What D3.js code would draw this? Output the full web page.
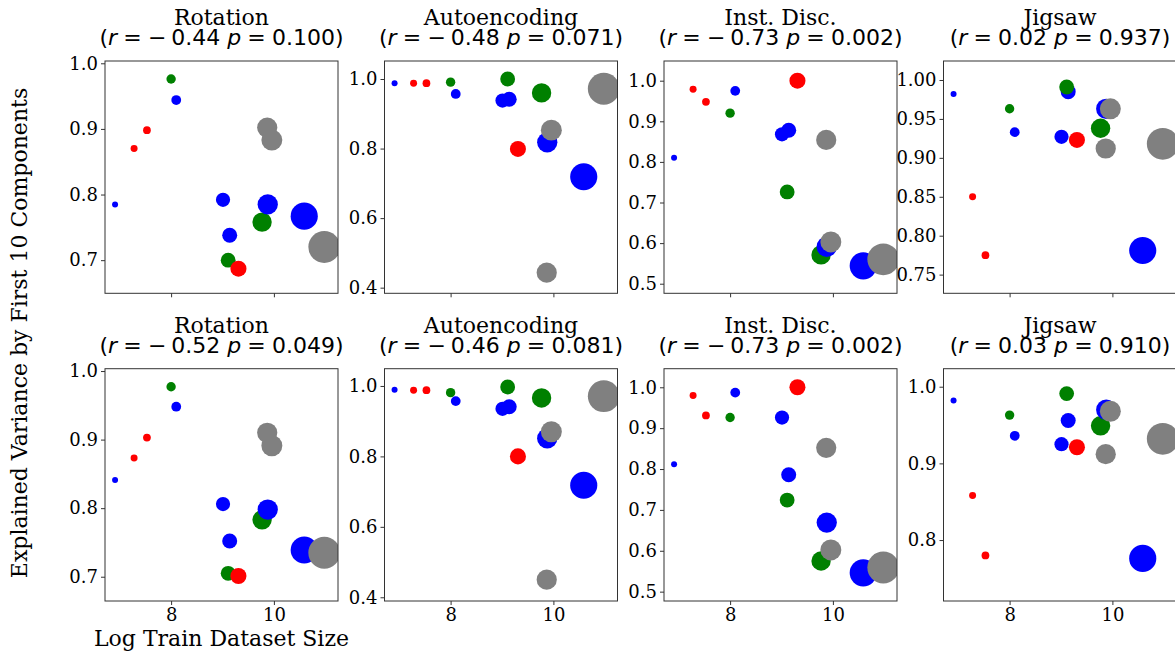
<!DOCTYPE html>
<html><head><meta charset="utf-8">
<script src="https://cdn.jsdelivr.net/npm/d3@7"></script>
<style>html,body{margin:0;padding:0;background:#fff} svg{display:block}</style>
</head><body><svg id="c" width="1175" height="654"></svg>
<script>
// ---------------- data ----------------
const methods = ["Rotation", "Autoencoding", "Inst. Disc.", "Jigsaw"];
// log train dataset size of each of the 15 points (draw order)
const logSize = [6.91, 7.28, 7.53, 8.00, 8.10, 9.01, 9.14, 9.11, 9.31, 9.77, 9.87, 9.88, 9.96, 10.59, 10.98];
const group   = ["blue","red","red","green","blue","blue","blue","green","red","green","gray","blue","gray","blue","gray"];

// explained variance by first 10 components, row 1
const rotation1 = [0.785, 0.870, 0.898, 0.976, 0.944, 0.792, 0.738, 0.700, 0.687, 0.758, 0.902, 0.785, 0.883, 0.767, 0.720];
const autoenc1  = [0.988, 0.988, 0.988, 0.991, 0.957, 0.938, 0.942, 1.000, 0.799, 0.960, 0.443, 0.818, 0.853, 0.719, 0.972];
const instDisc1 = [0.810, 0.979, 0.948, 0.920, 0.975, 0.868, 0.878, 0.726, 1.000, 0.571, 0.854, 0.591, 0.603, 0.544, 0.560];
const jigsaw1   = [0.982, 0.850, 0.775, 0.963, 0.933, 0.927, 0.985, 0.991, 0.923, 0.938, 0.912, 0.963, 0.963, 0.781, 0.918];
// row 2
const rotation2 = [0.841, 0.873, 0.903, 0.977, 0.948, 0.806, 0.752, 0.705, 0.701, 0.783, 0.910, 0.798, 0.891, 0.739, 0.735];
const autoenc2  = [0.989, 0.988, 0.988, 0.981, 0.957, 0.935, 0.941, 0.997, 0.800, 0.966, 0.450, 0.851, 0.870, 0.718, 0.971];
const instDisc2 = [0.812, 0.980, 0.931, 0.926, 0.987, 0.926, 0.786, 0.724, 1.000, 0.575, 0.852, 0.669, 0.602, 0.546, 0.559];
const jigsaw2   = [0.982, 0.858, 0.780, 0.963, 0.936, 0.925, 0.956, 0.991, 0.921, 0.949, 0.912, 0.970, 0.968, 0.776, 0.932];

const rRow1 = [-0.44, -0.48, -0.73, 0.02];
const pRow1 = [0.100, 0.071, 0.002, 0.937];
const rRow2 = [-0.52, -0.46, -0.73, 0.03];
const pRow2 = [0.049, 0.081, 0.002, 0.910];

const xLimits = [6.714, 11.247];
const xTicks = [8, 10];
const yLimits1 = [[0.6495, 1.0035], [0.3838, 1.0518], [0.4764, 1.0485], [0.726, 1.0244]];
const yLimits2 = [[0.6646, 1.0034], [0.3894, 1.0490], [0.4771, 1.0455], [0.7205, 1.0235]];
const yTicks1 = [[0.7, 0.8, 0.9, 1.0], [0.4, 0.6, 0.8, 1.0], [0.5, 0.6, 0.7, 0.8, 0.9, 1.0], [0.75, 0.80, 0.85, 0.90, 0.95, 1.00]];
const yTicks2 = [[0.7, 0.8, 0.9, 1.0], [0.4, 0.6, 0.8, 1.0], [0.5, 0.6, 0.7, 0.8, 0.9, 1.0], [0.8, 0.9, 1.0]];
const yTickFmt1 = [".1f", ".1f", ".1f", ".2f"];
const yTickFmt2 = [".1f", ".1f", ".1f", ".1f"];

const rows = [
  {values: [rotation1, autoenc1, instDisc1, jigsaw1], r: rRow1, p: pRow1, ylim: yLimits1, yt: yTicks1, fmt: yTickFmt1},
  {values: [rotation2, autoenc2, instDisc2, jigsaw2], r: rRow2, p: pRow2, ylim: yLimits2, yt: yTicks2, fmt: yTickFmt2}
];

// ---------------- layout ----------------
const panelLeft = [105, 384.5, 664, 943.5];
const panelW = 233, panelH = 232.3;
const rowTop = [61, 368.7];
const SERIF = "'DejaVu Serif', serif";
const SANS = "'DejaVu Sans', sans-serif";

const color = d3.scaleOrdinal().domain(["blue","red","green","gray"]).range(["#0000ff","#ff0000","#008000","#808080"]);
const x = d3.scaleLinear().domain(xLimits).range([0, panelW]);
const radius = d3.scalePow().exponent(0.41).domain([0, 1000]).range([0, 3.0]);

const svg = d3.select("#c");
const defs = svg.append("defs");

rows.forEach((row, ri) => {
  methods.forEach((m, mi) => {
    const left = panelLeft[mi], top = rowTop[ri];
    const y = d3.scaleLinear().domain(row.ylim[mi]).range([panelH, 0]);
    const g = svg.append("g").attr("transform", `translate(${left},${top})`);
    const cid = `clip${ri}${mi}`;
    defs.append("clipPath").attr("id", cid).append("rect")
      .attr("x", 0).attr("y", 0).attr("width", panelW).attr("height", panelH);

    const pts = logSize.map((lx, i) => ({lx, v: row.values[mi][i], grp: group[i]}));
    g.append("g").attr("clip-path", `url(#${cid})`)
      .selectAll("circle").data(pts).join("circle")
      .attr("cx", d => x(d.lx)).attr("cy", d => y(d.v))
      .attr("r", d => radius(Math.exp(d.lx)))
      .attr("fill", d => color(d.grp));

    // axes
    const yAxis = d3.axisLeft(y).tickValues(row.yt[mi]).tickFormat(d3.format(row.fmt[mi]))
      .tickSizeInner(4).tickSizeOuter(0).tickPadding(3);
    const ya = g.append("g").call(yAxis);
    const xAxis = d3.axisBottom(x).tickValues(xTicks).tickFormat(d3.format("d"))
      .tickSizeInner(4).tickSizeOuter(0).tickPadding(3);
    const xa = g.append("g").attr("transform", `translate(0,${panelH})`).call(xAxis);
    if (ri === 0) xa.selectAll("text").remove();
    [ya, xa].forEach(a => {
      a.select(".domain").remove();
      a.selectAll("line").attr("stroke", "#333").attr("stroke-width", 1);
      a.selectAll("text").attr("font-family", SERIF).attr("font-size", 18).attr("fill", "#000");
    });
    g.append("rect").attr("x", 0).attr("y", 0).attr("width", panelW).attr("height", panelH)
      .attr("fill", "none").attr("stroke", "#333").attr("stroke-width", 1);

    // titles
    const cx = panelW / 2;
    g.append("text").attr("x", cx).attr("y", -36).attr("text-anchor", "middle")
      .attr("font-family", SERIF).attr("font-size", 22).text(m);
    const t2 = g.append("text").attr("x", cx).attr("y", -15.7).attr("text-anchor", "middle")
      .attr("font-family", SANS).attr("font-size", 22);
    const rv = row.r[mi], pv = row.p[mi];
    t2.append("tspan").text("(");
    t2.append("tspan").attr("font-style", "italic").text("r");
    t2.append("tspan").attr("dx", "0.28em").text("=");
    if (rv < 0) {
      t2.append("tspan").attr("dx", "0.28em").text("\u2212");
      t2.append("tspan").attr("dx", "0.22em").text(Math.abs(rv).toFixed(2));
    } else {
      t2.append("tspan").attr("dx", "0.28em").text(rv.toFixed(2));
    }
    t2.append("tspan").attr("dx", "0.32em").attr("font-style", "italic").text("p");
    t2.append("tspan").attr("dx", "0.28em").text("=");
    t2.append("tspan").attr("dx", "0.28em").text(pv.toFixed(3) + ")");
  });
});

// figure labels
svg.append("text").attr("transform", "translate(27,333) rotate(-90)")
  .attr("text-anchor", "middle").attr("font-family", SERIF).attr("font-size", 22)
  .text("Explained Variance by First 10 Components");
svg.append("text").attr("x", panelLeft[0] + panelW / 2).attr("y", 646)
  .attr("text-anchor", "middle").attr("font-family", SERIF).attr("font-size", 22)
  .text("Log Train Dataset Size");
</script></body></html>
